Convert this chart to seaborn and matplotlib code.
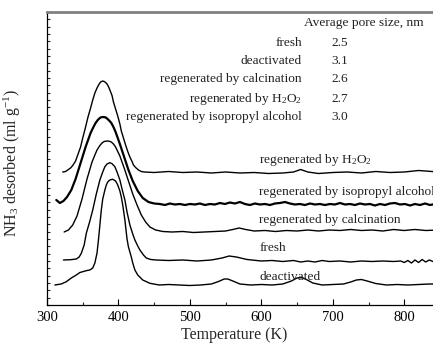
import numpy as np
import pandas as pd
import matplotlib
matplotlib.use("Agg")
import matplotlib.pyplot as plt
import seaborn as sns

# ---------------- data ----------------
T_h2o2 = [322, 326, 329, 333, 336, 340, 343, 347, 350, 354, 357, 361, 364, 367, 370, 373, 375, 378, 380, 382, 384, 386, 388,
          391, 393, 396, 399, 402, 404, 407, 410, 413, 416, 419, 421, 424, 428, 432, 436,
          450, 470, 490, 510, 530, 550, 570, 590, 610, 630, 645, 655, 665, 680, 700, 720, 740, 760, 780, 800, 820, 848]
v_h2o2 = [133, 133.5, 135, 137, 139.5, 144, 150, 158, 167, 178, 187, 197, 205, 212, 217, 221, 223, 224, 223.5, 222.5, 221, 218.5, 215,
          209.5, 203, 196, 189, 181, 174, 167, 160, 153.5, 148, 143.5, 140, 137.5, 135, 133.5, 133,
          132.5, 133.5, 132.5, 133, 132, 133, 132, 132.5, 131.5, 132, 133, 135.5, 133, 131.5, 132.5, 133, 132, 133.5, 132.5, 133, 134.5, 133]

T_iso = [313, 318, 323, 328, 334, 340, 347, 354, 361, 365, 368, 371, 374, 376, 379, 382, 384, 387, 390, 393, 396, 402, 408, 414, 420, 427, 434, 442, 450,
         458, 465, 472, 479, 486, 493, 500, 507, 514, 521, 528, 535, 542, 549, 556, 563, 570, 577, 584, 591, 598, 605,
         612, 619, 626, 633, 640, 647, 654, 661, 668, 675, 682, 689, 696, 703, 710, 717, 724, 731, 738, 745, 752, 759,
         766, 773, 780, 787, 794, 801, 808, 815, 822, 829, 836, 843, 848]
v_iso = [105, 102, 104, 108, 115, 126, 142, 158, 172, 178, 182, 185, 187, 187.8, 188, 187.6, 186.5, 184.5, 182, 178, 173, 161, 148, 135, 124, 114, 107, 103, 101.5,
         101, 100, 101.5, 100.5, 101, 100, 101, 100.5, 101.5, 100, 101, 100.5, 102, 101, 102.5, 101.5, 103, 101, 100, 101.5, 100.5, 101,
         100, 101.5, 102, 103, 101.5, 100.5, 101, 100, 101.5, 100.5, 101, 100, 101, 100.5, 102, 100.5, 101, 100, 101.5, 100.5, 101, 99.5,
         101, 100, 101.5, 102, 100.5, 101, 99.5, 101, 100, 101.5, 100, 101, 100.5]

T_cal = [324, 330, 336, 342, 349, 356, 363, 367, 370, 374, 377, 380, 384, 387, 390, 393, 396, 402, 408, 414, 420, 426, 432, 438, 444, 452, 462,
         475, 490, 505, 520, 535, 550, 560, 569, 578, 590, 605, 620, 635, 650, 665, 680, 695, 710, 725, 740, 755, 770,
         785, 800, 815, 830, 848]
v_cal = [73, 75, 80, 89, 106, 126, 143, 150, 155, 159.5, 162, 163.5, 164, 163.8, 163, 161, 158, 149, 137, 124, 111, 100, 90, 83, 78, 75, 73.5,
         73, 73.5, 72.5, 73, 73.5, 74, 75.5, 77, 75.5, 74, 74.5, 73.5, 74.5, 74, 75, 74, 75, 74.5, 75.5, 74.5, 75, 74,
         75.5, 74.5, 75.5, 74.5, 75]

T_fr = [323, 333, 341, 345, 348, 352, 355, 360, 364, 369, 374, 378, 381, 384, 388, 391, 395, 398, 402, 405, 409, 412, 416, 420, 423,
        427, 430, 435, 439, 445, 453, 470, 490, 510, 530, 545, 555,
        565, 580, 600, 615, 630, 645, 655, 665, 675, 685, 695, 710, 725, 740, 755, 770, 785, 795, 800, 805, 810, 815,
        820, 825, 830, 835, 840, 848]
v_fr = [45, 45.3, 46, 48, 51.7, 60, 71.7, 84, 95, 111, 125, 133, 138.3, 141, 142.3, 141.3, 138.3, 133, 125, 116, 105, 93, 80, 71, 65,
        59, 55, 50, 47, 45.5, 45, 44.5, 45, 44, 45, 47, 49,
        48, 45.5, 44, 44.5, 43.5, 44.5, 43, 44, 43, 44.5, 43.5, 44, 43, 44, 43.5, 44, 43.5, 44, 42.5, 44.5, 42, 45,
        42.5, 45.5, 43, 45, 43.5, 44]

T_de = [311, 320, 327, 334, 341, 346, 351, 356, 360, 364, 367, 370, 372, 374, 376, 378, 381, 383, 385, 387, 389, 392, 396, 399,
        402, 404, 406, 409, 412, 414, 416, 418, 420, 423, 427, 434, 444, 457, 470, 485, 500, 515, 530, 540, 548, 553,
        560, 570, 585, 600, 615, 630, 642, 650, 657, 663, 672, 685, 700, 715, 725, 733, 740, 748, 760, 775, 790, 805,
        820, 835, 848]
v_de = [20, 21, 23.3, 27, 30, 32.5, 33.5, 34.5, 35, 37, 42, 52, 65, 80, 95, 106, 115, 120, 123, 124.5, 125.3, 125.7, 124, 120,
        114, 108, 100, 85, 66, 58, 53, 48, 42, 35, 30, 25, 21.7, 20, 20.5, 20, 19.5, 20, 21, 23.5, 26, 26,
        24, 21, 20, 20.5, 20, 21, 24, 27, 27.5, 25.5, 22, 20, 20.5, 21, 23, 25, 25.5, 24, 21.5, 20, 20.5, 20,
        20.5, 21, 21]

curve_labels = ["regenerated by H$_2$O$_2$", "regenerated by isopropyl alcohol",
                "regenerated by calcination", "fresh", "deactivated"]
label_y = [145, 113, 85, 57, 28]

table_names = ["fresh", "deactivated", "regenerated by calcination",
               "regenerated by H$_2$O$_2$", "regenerated by isopropyl alcohol"]
table_values = ["2.5", "3.1", "2.6", "2.7", "3.0"]
table_y = [262, 244, 226, 206, 188]
x_ticks = [300, 400, 500, 600, 700, 800]

# ---------------- style ----------------
sns.set_theme(style="ticks")
plt.rcParams["font.family"] = ["Liberation Serif", "DejaVu Serif"]
plt.rcParams["mathtext.fontset"] = "custom"
plt.rcParams["mathtext.rm"] = "Liberation Serif"
plt.rcParams["mathtext.it"] = "Liberation Serif:italic"

fig = plt.figure(figsize=(4.33, 3.43), dpi=100)
ax = fig.add_axes([47 / 433, 38 / 343, 393 / 433, 293 / 343])

series = [(T_h2o2, v_h2o2, 1.0), (T_iso, v_iso, 1.6), (T_cal, v_cal, 1.0),
          (T_fr, v_fr, 1.0), (T_de, v_de, 1.0)]
for T, v, lw in series:
    df = pd.DataFrame({"T": T, "v": v})
    sns.lineplot(data=df, x="T", y="v", ax=ax, color="black", lw=lw,
                 sort=False, estimator=None)

ax.set_xlim(300, 300 + 393 * 1.3928)
ax.set_ylim(0, 293)

# curve labels
for lab, y in zip(curve_labels, label_y):
    ax.text(597, y, lab, fontsize=9.6, ha="left", va="center", color="#222222")

# table
ax.text(659.5, 282, "Average pore size, nm", fontsize=9.6, ha="left", va="center", color="#222222")
for name, val, y in zip(table_names, table_values, table_y):
    ax.text(656.5, y, name, fontsize=9.6, ha="right", va="center", color="#222222")
    ax.text(698, y, val, fontsize=9.6, ha="left", va="center", color="#222222")

# axes styling
ax.set_xticks(x_ticks)
ax.set_xticklabels([str(t) for t in x_ticks], fontsize=10.5)
ax.set_xticks([350, 450, 550, 650, 750, 850], minor=True)
ax.tick_params(axis="x", which="major", direction="in", length=4, width=0.8, pad=4, colors="black")
ax.tick_params(axis="x", which="minor", direction="in", length=2.5, width=0.8)
ax.set_yticks(np.linspace(0, 293, 41))
ax.set_yticklabels([])
ax.tick_params(axis="y", which="major", direction="in", length=2.5, width=0.8, left=True)

for s in ["left", "bottom"]:
    ax.spines[s].set_color("black")
    ax.spines[s].set_linewidth(0.9)
ax.spines["top"].set_color("#808080")
ax.spines["top"].set_linewidth(2)
ax.spines["right"].set_visible(False)

ax.set_xlabel("Temperature (K)", fontsize=11.5)
ax.xaxis.set_label_coords(0.477, -0.075)
ax.set_ylabel("NH$_3$ desorbed (ml g$^{-1}$)", fontsize=11.5)
ax.yaxis.set_label_coords(-0.06, 0.485)

fig.savefig("out.png", dpi=100)
